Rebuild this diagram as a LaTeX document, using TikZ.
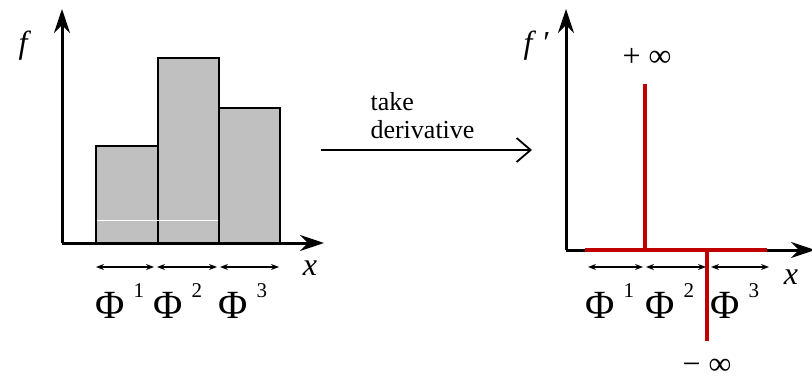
\documentclass[tikz,border=0pt]{standalone}
\usepackage{fontspec}
\setmainfont{Liberation Serif}[Ligatures=TeX]
\newfontfamily\tms{Liberation Serif}
\usetikzlibrary{arrows.meta,positioning}
\definecolor{BarFill}{HTML}{C0C0C0}
\definecolor{Spike}{HTML}{C00000}
\newcommand{\philab}[1]{Φ\hspace{4.5pt}\raisebox{10.5pt}{\fontsize{10.5}{11}\selectfont #1}}

\begin{document}
\begin{tikzpicture}[x=0.5pt,y=-0.5pt,
  axis/.style={line width=1.5pt,-{Stealth[length=12pt,width=8pt,inset=4pt]}},
  bar/.style={draw=black,fill=BarFill,line width=1.3pt},
  span/.style={line width=0.6pt,{Stealth[length=4pt,width=3pt]}-{Stealth[length=4pt,width=3pt]}},
  spike/.style={Spike,line width=2pt},
  phi/.style={anchor=base west,inner sep=0pt,font=\tms\fontsize{20}{22}\selectfont},
  lab/.style={font=\tms\fontsize{16}{18}\selectfont\itshape,inner sep=0pt}]
\useasboundingbox (0,0) rectangle (812,379);
% left: piecewise constant f
\coordinate (lo) at (62,243);
\coordinate (ly) at (62,9);
\coordinate (lx) at (324,243);
\draw[bar] (96,243) rectangle (158,146);
\draw[bar] (158,243) rectangle (219,58);
\draw[bar] (219,243) rectangle (280,108);
\draw[white,line width=0.5pt] (97,220) -- (218,220);
\draw[axis] (lo) -- (ly);
\draw[axis] (lo) -- (lx);
\node[lab] (lf) at (23,46) {f};
\node[lab] (lxl) at (310,268) {x};
\coordinate (la0) at (96,267);
\coordinate (la1) at (154,267);
\coordinate (la2) at (157,267);
\coordinate (la3) at (217,267);
\coordinate (la4) at (220,267);
\coordinate (la5) at (279,267);
\draw[span] (la0) -- (la1);
\draw[span] (la2) -- (la3);
\draw[span] (la4) -- (la5);
\node[phi] (lp1) at (95,318) {\philab{1}};
\node[phi] (lp2) at (153,318) {\philab{2}};
\node[phi] (lp3) at (218,318) {\philab{3}};
% middle arrow
\coordinate (d0) at (321,150);
\coordinate (d1) at (532,150);
\draw[line width=0.9pt,-{Straight Barb[length=7pt,width=12pt]}] (d0) -- node[midway,above=5pt,xshift=-2pt,inner sep=0pt,align=left,font=\tms\fontsize{13}{14}\selectfont] (dl) {take\\derivative} (d1);
% right: derivative f'
\coordinate (ro) at (566,250);
\coordinate (ry) at (566,9);
\coordinate (rx) at (815,250);
\draw[axis] (ro) -- (ry);
\draw[axis] (ro) -- (rx);
\coordinate (s0) at (585,250);
\coordinate (s1) at (767,250);
\coordinate (up0) at (645,250);
\coordinate (up1) at (645,84);
\coordinate (dn0) at (707,250);
\coordinate (dn1) at (707,341);
\draw[spike] (s0) -- (s1);
\draw[spike] (up0) -- (up1);
\draw[spike] (dn0) -- (dn1);
\node[lab] (rf) at (537,46) {f\,\,\upshape ′};
\node[lab] (rxl) at (791,277) {x};
\node[lab] (pinf) at (647,57) {\upshape + ∞};
\node[lab] (minf) at (707,367) {\upshape − ∞};
\coordinate (ra0) at (588,267);
\coordinate (ra1) at (643,267);
\coordinate (ra2) at (646,267);
\coordinate (ra3) at (706,267);
\coordinate (ra4) at (711,267);
\coordinate (ra5) at (769,267);
\draw[span] (ra0) -- (ra1);
\draw[span] (ra2) -- (ra3);
\draw[span] (ra4) -- (ra5);
\node[phi] (rp1) at (585,318) {\philab{1}};
\node[phi] (rp2) at (645,318) {\philab{2}};
\node[phi] (rp3) at (710,318) {\philab{3}};
\end{tikzpicture}
\end{document}
